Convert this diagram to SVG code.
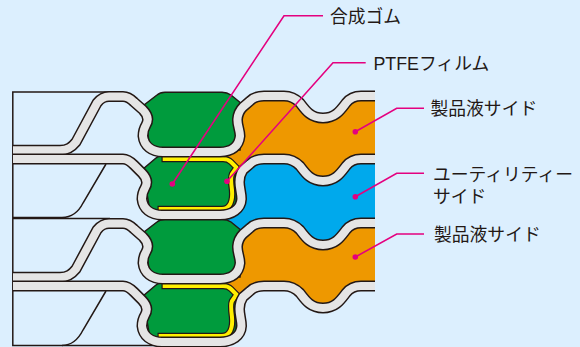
<svg xmlns="http://www.w3.org/2000/svg" xmlns:xlink="http://www.w3.org/1999/xlink" width="580" height="347" viewBox="0 0 580 347">
<style>
.bo{fill:none;stroke:#231815;stroke-width:11}
.bg{fill:none;stroke:#e5e5e5;stroke-width:8}
.thin{fill:none;stroke:#231815;stroke-width:1.5}
.green{fill:#009b3d;stroke:#231815;stroke-width:1.5}
.yo{fill:none;stroke:#231815;stroke-width:6.4}
.yy{fill:none;stroke:#ffef00;stroke-width:4}
.lead{fill:none;stroke:#e4007f;stroke-width:1.6}
.dot{fill:#e4007f}
text{font-family:"Liberation Sans","Noto Sans CJK JP",sans-serif;font-size:17.8px;fill:#231815}
</style>
<defs>
<path id="pa" d="M13,150.3 L60,150.3 C68,150.3 72,147 76,142 L97,103 C101,98 104,96.5 109,96.5 L123,96.5 C128,96.5 131,99 134,102 L143,110 C148,115 149,120 146,125 C143,130 143,133 143,136 C144,146 152,152 163,152 L220,152 C232,152 239,146 240,136 C240,130 237,125 237.5,119 C238,113 240,110 243,107 L250,101 C254,97 258,96 264,96 L284,96 C291,96 296,99 300,103 C306,111 311,118 323,118 C335,118 340,111 346,103 C350,98 354,96 361,96 L375,96"/>
<path id="pb" d="M13,159 L123,159 C128,159 131,162 134,165 L142,173 C147,178 148,183 145,188 C142,193 142,196 142,199 C143,209 151,215 162,215 L220,215 C232,215 241,209 241.5,199 C241.5,193 239.5,188 239.5,182 C239.5,176 241,173 243,170 L250,164 C254,160 258,159 264,159 L284,159 C291,159 296,162 300,166 C306,174 311,181 323,181 C335,181 340,174 346,166 C350,161 354,159 361,159 L375,159"/>
<path id="ga" d="M144,105 L157,95 Q160,92.3 165,92.3 L222,92.3 Q227,92.3 231,95 L242,104 L240,150 L150,150 Z"/>
<path id="gb" d="M143,169 L156,158 Q158,156 162,156 L224,156 L237,168 L236,212 L150,212 Z"/>
<path id="yk" d="M161.5,159 L223,159 C227,159 229,160 231,162 L236.5,167.5 L232,174 C230.5,177 231,183 232,190 C233,201 230,209 222,209 L157.5,209"/>
<path id="yf" d="M162.7,159 L223,159 C227,159 229,160 231,162 L236.5,167.5 L232,174 C230.5,177 231,183 232,190 C233,201 230,209 222,209 L158.7,209"/>
</defs>
<rect width="580" height="347" fill="#dceffe"/>
<g id="fluid-channels">
<path id="product-side-1" fill="#ee9800" d="M222,152 L232,140 L240,107 L250,101 C254,97 258,96 264,96 L284,96 C291,96 296,99 300,103 C306,111 311,118 323,118 C335,118 340,111 346,103 C350,98 354,96 361,96 L375,96 L375,159 L361,159 C354,159 350,161 346,166 C340,174 335,181 323,181 C311,181 306,174 300,166 C296,162 291,159 284,159 L264,159 C258,159 254,160 250,164 L236,178 L222,155 Z"/>
<path id="utility-side" fill="#00a9ec" d="M222,215 L232,203 L240,170 L250,164 C254,160 258,159 264,159 L284,159 C291,159 296,162 300,166 C306,174 311,181 323,181 C335,181 340,174 346,166 C350,161 354,159 361,159 L375,159 L375,223 L361,223 C354,223 350,225 346,230 C340,238 335,245 323,245 C311,245 306,238 300,230 C296,226 291,223 284,223 L264,223 L250,227 L236,240 L222,218 Z"/>
<path id="product-side-2" fill="#ee9800" d="M222,279 L232,267 L240,234 L250,228 C254,224 258,223 264,223 L284,223 C291,223 296,226 300,230 C306,238 311,245 323,245 C335,245 340,238 346,230 C350,225 354,223 361,223 L375,223 L375,286 L361,286 C354,286 350,288 346,293 C340,301 335,308 323,308 C311,308 306,301 300,293 C296,289 291,286 284,286 L264,286 C258,286 254,287 250,291 L236,305 L222,282 Z"/>
</g>
<g id="gasket-1"><use xlink:href="#ga" class="green"/></g>
<g id="gasket-2"><use xlink:href="#gb" class="green"/><use xlink:href="#yk" class="yo"/><use xlink:href="#yf" class="yy"/></g>
<g id="gasket-3"><use xlink:href="#ga" class="green" transform="translate(0,127)"/></g>
<g id="gasket-4"><use xlink:href="#gb" class="green" transform="translate(0,127)"/><use xlink:href="#yk" class="yo" transform="translate(0,127)"/><use xlink:href="#yf" class="yy" transform="translate(0,127)"/></g>
<g id="frame">
<path class="thin" d="M110,92 L12.8,92 L12.8,345.6 L160,345.6"/>
<path class="thin" d="M106,164 L83,203 C79,211 73,217.4 62,217.4 L13,217.4 M110,218.6 L13,218.6"/>
<path class="thin" d="M106,291 L83,330 C79,338 73,345.4 62,345.4"/>
</g>
<g id="plate-1"><use xlink:href="#pa" class="bo"/><use xlink:href="#pa" class="bg"/></g>
<g id="plate-2"><use xlink:href="#pb" class="bo"/><use xlink:href="#pb" class="bg"/></g>
<g id="plate-3"><use xlink:href="#pa" class="bo" transform="translate(0,127)"/><use xlink:href="#pa" class="bg" transform="translate(0,127)"/></g>
<g id="plate-4"><use xlink:href="#pb" class="bo" transform="translate(0,127)"/><use xlink:href="#pb" class="bg" transform="translate(0,127)"/></g>
<g id="connectors">
<path class="lead" d="M172.3,184 L284,15.7 L323,15.7"/><circle class="dot" cx="172.3" cy="184" r="2.8"/>
<path class="lead" d="M227,181.3 L333,62.7 L365.7,62.7"/><circle class="dot" cx="227" cy="181.3" r="2.8"/>
<path class="lead" d="M355.3,131.7 L396.7,108.3 L424,108.3"/><circle class="dot" cx="355.3" cy="131.7" r="2.8"/>
<path class="lead" d="M355.3,196.7 L396.7,173.3 L424,173.3"/><circle class="dot" cx="355.3" cy="196.7" r="2.8"/>
<path class="lead" d="M355.3,257 L396.7,234 L424,234"/><circle class="dot" cx="355.3" cy="257" r="2.8"/>
</g>
<g id="label-rubber"><text x="330" y="23">合成ゴム</text></g>
<g id="label-ptfe"><text x="373.5" y="70">PTFEフィルム</text></g>
<g id="label-product-1"><text x="430.5" y="114.5">製品液サイド</text></g>
<g id="label-utility"><text x="433" y="181">ユーティリティー</text><text x="433" y="203">サイド</text></g>
<g id="label-product-2"><text x="434" y="241">製品液サイド</text></g>
</svg>
